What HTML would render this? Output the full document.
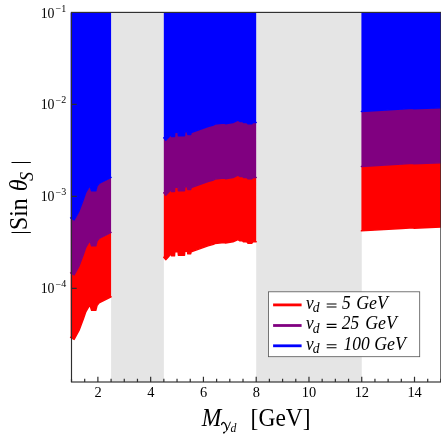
<!DOCTYPE html>
<html><head><meta charset="utf-8"><title>Sin theta_S vs M_gamma_d</title>
<style>
html,body{margin:0;padding:0;background:#ffffff;}
body{width:441px;height:441px;overflow:hidden;font-family:"Liberation Serif",serif;}
svg{display:block;position:absolute;left:0;top:0;will-change:transform;transform:translateZ(0);}
text{font-family:"Liberation Serif",serif;}
</style></head><body>
<svg width="441" height="441" viewBox="0 0 441 441" font-family="'Liberation Serif', serif" fill="#000">
<rect x="111.08" y="12.4" width="52.77" height="369.6" fill="#e5e5e5"/>
<rect x="256.2" y="12.4" width="105.54" height="369.6" fill="#e5e5e5"/>
<polygon points="70.6,337.35 74.1,339.35 79,330.5 83.4,318.65 85.8,311.75 86.9,309.85 89.1,306.15 90.3,306.15 91.6,310.25 95.8,310.25 97,305.45 99.1,302.85 111.1,296.85 111.1,232.45 99.1,238.45 97,241.05 95.8,245.85 91.6,245.85 90.3,241.75 89.1,241.75 86.9,245.45 85.8,247.35 83.4,254.25 79,266.1 74.1,274.95 70.6,272.95" fill="#ff0000"/>
<polyline points="70.6,337.35 74.1,339.35 79,330.5 83.4,318.65 85.8,311.75 86.9,309.85 89.1,306.15 90.3,306.15 91.6,310.25 95.8,310.25 97,305.45 99.1,302.85 111.1,296.85" fill="none" stroke="#ff0000" stroke-width="1.5" stroke-linejoin="round" stroke-linecap="round"/>
<polygon points="163.8,257.25 165.75,259.65 169,256.25 169.6,254.75 171,254.75 171.4,255.85 174.5,255.85 174.8,251.75 178.1,251.75 178.4,255.15 184.5,255.15 184.8,251.15 187.4,251.15 187.8,253.85 190.6,253.85 191.2,251.85 208,245.85 213.6,244.35 214.9,243.45 224.25,242.45 225.5,243.05 233,241.85 238,239.55 239.9,240.85 242.4,240.65 243.6,241.85 246.75,241.85 248,243.15 251.75,243.15 253,241.85 256.2,241.85 256.2,177.45 253,177.45 251.75,178.75 248,178.75 246.75,177.45 243.6,177.45 242.4,176.25 239.9,176.45 238,175.15 233,177.45 225.5,178.65 224.25,178.05 214.9,179.05 213.6,179.95 208,181.45 191.2,187.45 190.6,189.45 187.8,189.45 187.4,186.75 184.8,186.75 184.5,190.75 178.4,190.75 178.1,187.35 174.8,187.35 174.5,191.45 171.4,191.45 171,190.35 169.6,190.35 169,191.85 165.75,195.25 163.8,192.85" fill="#ff0000"/>
<polyline points="163.8,257.25 165.75,259.65 169,256.25 169.6,254.75 171,254.75 171.4,255.85 174.5,255.85 174.8,251.75 178.1,251.75 178.4,255.15 184.5,255.15 184.8,251.15 187.4,251.15 187.8,253.85 190.6,253.85 191.2,251.85 208,245.85 213.6,244.35 214.9,243.45 224.25,242.45 225.5,243.05 233,241.85 238,239.55 239.9,240.85 242.4,240.65 243.6,241.85 246.75,241.85 248,243.15 251.75,243.15 253,241.85 256.2,241.85" fill="none" stroke="#ff0000" stroke-width="1.5" stroke-linejoin="round" stroke-linecap="round"/>
<polygon points="361.4,230.85 402,228.45 413,227.75 413.8,228.15 441,227.05 441,162.65 413.8,163.75 413,163.35 402,164.05 361.4,166.45" fill="#ff0000"/>
<polyline points="361.4,230.85 402,228.45 413,227.75 413.8,228.15 441,227.05" fill="none" stroke="#ff0000" stroke-width="1.5" stroke-linejoin="round" stroke-linecap="round"/>
<polygon points="70.6,272.95 74.1,274.95 79,266.1 83.4,254.25 85.8,247.35 86.9,245.45 89.1,241.75 90.3,241.75 91.6,245.85 95.8,245.85 97,241.05 99.1,238.45 111.1,232.45 111.1,177.45 99.1,183.45 97,186.05 95.8,190.85 91.6,190.85 90.3,186.75 89.1,186.75 86.9,190.45 85.8,192.35 83.4,199.25 79,211.1 74.1,219.95 70.6,217.95" fill="#800080"/>
<polyline points="70.6,272.95 74.1,274.95 79,266.1 83.4,254.25 85.8,247.35 86.9,245.45 89.1,241.75 90.3,241.75 91.6,245.85 95.8,245.85 97,241.05 99.1,238.45 111.1,232.45" fill="none" stroke="#800080" stroke-width="1.5" stroke-linejoin="round" stroke-linecap="round"/>
<polygon points="163.8,192.85 165.75,195.25 169,191.85 169.6,190.35 171,190.35 171.4,191.45 174.5,191.45 174.8,187.35 178.1,187.35 178.4,190.75 184.5,190.75 184.8,186.75 187.4,186.75 187.8,189.45 190.6,189.45 191.2,187.45 208,181.45 213.6,179.95 214.9,179.05 224.25,178.05 225.5,178.65 233,177.45 238,175.15 239.9,176.45 242.4,176.25 243.6,177.45 246.75,177.45 248,178.75 251.75,178.75 253,177.45 256.2,177.45 256.2,122.45 253,122.45 251.75,123.75 248,123.75 246.75,122.45 243.6,122.45 242.4,121.25 239.9,121.45 238,120.15 233,122.45 225.5,123.65 224.25,123.05 214.9,124.05 213.6,124.95 208,126.45 191.2,132.45 190.6,134.45 187.8,134.45 187.4,131.75 184.8,131.75 184.5,135.75 178.4,135.75 178.1,132.35 174.8,132.35 174.5,136.45 171.4,136.45 171,135.35 169.6,135.35 169,136.85 165.75,140.25 163.8,137.85" fill="#800080"/>
<polyline points="163.8,192.85 165.75,195.25 169,191.85 169.6,190.35 171,190.35 171.4,191.45 174.5,191.45 174.8,187.35 178.1,187.35 178.4,190.75 184.5,190.75 184.8,186.75 187.4,186.75 187.8,189.45 190.6,189.45 191.2,187.45 208,181.45 213.6,179.95 214.9,179.05 224.25,178.05 225.5,178.65 233,177.45 238,175.15 239.9,176.45 242.4,176.25 243.6,177.45 246.75,177.45 248,178.75 251.75,178.75 253,177.45 256.2,177.45" fill="none" stroke="#800080" stroke-width="1.5" stroke-linejoin="round" stroke-linecap="round"/>
<polygon points="361.4,166.45 402,164.05 413,163.35 413.8,163.75 441,162.65 441,107.65 413.8,108.75 413,108.35 402,109.05 361.4,111.45" fill="#800080"/>
<polyline points="361.4,166.45 402,164.05 413,163.35 413.8,163.75 441,162.65" fill="none" stroke="#800080" stroke-width="1.5" stroke-linejoin="round" stroke-linecap="round"/>
<polygon points="70.6,217.95 74.1,219.95 79,211.1 83.4,199.25 85.8,192.35 86.9,190.45 89.1,186.75 90.3,186.75 91.6,190.85 95.8,190.85 97,186.05 99.1,183.45 111.1,177.45 111.1,12.4 70.6,12.4" fill="#0000ff"/>
<polyline points="70.6,217.95 74.1,219.95 79,211.1 83.4,199.25 85.8,192.35 86.9,190.45 89.1,186.75 90.3,186.75 91.6,190.85 95.8,190.85 97,186.05 99.1,183.45 111.1,177.45" fill="none" stroke="#0000ff" stroke-width="1.5" stroke-linejoin="round" stroke-linecap="round"/>
<polygon points="163.8,137.85 165.75,140.25 169,136.85 169.6,135.35 171,135.35 171.4,136.45 174.5,136.45 174.8,132.35 178.1,132.35 178.4,135.75 184.5,135.75 184.8,131.75 187.4,131.75 187.8,134.45 190.6,134.45 191.2,132.45 208,126.45 213.6,124.95 214.9,124.05 224.25,123.05 225.5,123.65 233,122.45 238,120.15 239.9,121.45 242.4,121.25 243.6,122.45 246.75,122.45 248,123.75 251.75,123.75 253,122.45 256.2,122.45 256.2,12.4 163.8,12.4" fill="#0000ff"/>
<polyline points="163.8,137.85 165.75,140.25 169,136.85 169.6,135.35 171,135.35 171.4,136.45 174.5,136.45 174.8,132.35 178.1,132.35 178.4,135.75 184.5,135.75 184.8,131.75 187.4,131.75 187.8,134.45 190.6,134.45 191.2,132.45 208,126.45 213.6,124.95 214.9,124.05 224.25,123.05 225.5,123.65 233,122.45 238,120.15 239.9,121.45 242.4,121.25 243.6,122.45 246.75,122.45 248,123.75 251.75,123.75 253,122.45 256.2,122.45" fill="none" stroke="#0000ff" stroke-width="1.5" stroke-linejoin="round" stroke-linecap="round"/>
<polygon points="361.4,111.45 402,109.05 413,108.35 413.8,108.75 441,107.65 441,12.4 361.4,12.4" fill="#0000ff"/>
<polyline points="361.4,111.45 402,109.05 413,108.35 413.8,108.75 441,107.65" fill="none" stroke="#0000ff" stroke-width="1.5" stroke-linejoin="round" stroke-linecap="round"/>
<rect x="71.5" y="12.4" width="369.4" height="369.6" fill="none" stroke="#2e2e2e" stroke-width="1.15"/>
<path d="M71.5 382v-3.3 M84.69 382v-3.3 M97.89 382v-5.3 M111.08 382v-3.3 M124.27 382v-3.3 M137.46 382v-3.3 M150.66 382v-5.3 M163.85 382v-3.3 M177.04 382v-3.3 M190.24 382v-3.3 M203.43 382v-5.3 M216.62 382v-3.3 M229.81 382v-3.3 M243.01 382v-3.3 M256.2 382v-5.3 M269.39 382v-3.3 M282.59 382v-3.3 M295.78 382v-3.3 M308.97 382v-5.3 M322.16 382v-3.3 M335.36 382v-3.3 M348.55 382v-3.3 M361.74 382v-5.3 M374.94 382v-3.3 M388.13 382v-3.3 M401.32 382v-3.3 M414.51 382v-5.3 M427.71 382v-3.3 M440.9 382v-3.3 M71.5 104.4h5.2 M71.5 196.4h5.2 M71.5 288.4h5.2" stroke="#2e2e2e" stroke-width="1.2" fill="none"/>
<text x="97.99" y="396.7" text-anchor="middle" font-size="14.4">2</text>
<text x="150.76" y="396.7" text-anchor="middle" font-size="14.4">4</text>
<text x="203.53" y="396.7" text-anchor="middle" font-size="14.4">6</text>
<text x="256.3" y="396.7" text-anchor="middle" font-size="14.4">8</text>
<text x="309.07" y="396.7" text-anchor="middle" font-size="14.4">10</text>
<text x="361.84" y="396.7" text-anchor="middle" font-size="14.4">12</text>
<text x="414.61" y="396.7" text-anchor="middle" font-size="14.4">14</text>
<text x="40.7" y="17.6" font-size="13.8">10</text>
<text x="55.6" y="12.3" font-size="10">−</text>
<text x="61.3" y="11.6" font-size="10">1</text>
<text x="40.7" y="109.1" font-size="13.8">10</text>
<text x="55.6" y="103.8" font-size="10">−</text>
<text x="61.3" y="103.1" font-size="10">2</text>
<text x="40.7" y="201.1" font-size="13.8">10</text>
<text x="55.6" y="195.8" font-size="10">−</text>
<text x="61.3" y="195.1" font-size="10">3</text>
<text x="40.7" y="293.1" font-size="13.8">10</text>
<text x="55.6" y="287.8" font-size="10">−</text>
<text x="61.3" y="287.1" font-size="10">4</text>
<text transform="translate(201.8,426.4) scale(1,1.08)" font-size="23.5" font-style="italic">M</text>
<g fill="none" stroke="#000" stroke-linecap="round" stroke-linejoin="round"><title>γ</title><path d="M221.6 424.5C221.9 423 223.2 422 224.3 422.7C225.7 423.7 226.5 426.6 227 429.7" stroke-width="1.35"/><path d="M230.4 422.1C229.3 425.1 227.7 428.4 226.6 430.3C225.7 431.9 224.7 433 223.9 432.9" stroke-width="0.95"/><path d="M224.3 432.3L223.8 432.7" stroke-width="1.5"/></g>
<text transform="translate(230.5,432.2) scale(1,1.07)" font-size="11.8" font-style="italic">d</text>
<text transform="translate(250.6,426.2) scale(1,1.06)" font-size="23.5">[GeV]</text>
<g transform="translate(26.7,0) rotate(-90)"><text transform="translate(-229.9,0) scale(1,1.07)" font-size="23.7">Sin</text><text transform="translate(-191.3,0.4) scale(1,1.02)" font-size="24" font-style="italic">θ</text><text x="-181.1" y="6.2" font-size="18.2" font-style="italic">S</text></g>
<path d="M11.5 232.5H30.8M11.5 162.5H30.8" stroke="#000" stroke-width="1.2" fill="none"/>
<rect x="268.5" y="291.8" width="151.2" height="64.9" fill="#ffffff" stroke="#555555" stroke-width="0.8"/>
<path d="M273.1 304.9H301.6" stroke="#ff0000" stroke-width="2.8"/>
<text transform="translate(306.1,308.8) scale(1,1.06)" font-size="17.2" font-style="italic">v</text>
<text transform="translate(312.8,312.1) scale(1,1.06)" font-size="13.6" font-style="italic">d</text>
<path d="M326.7 304h9.8M326.7 307h9.8" stroke="#000" stroke-width="1.1" fill="none"/>
<text transform="translate(342,308.8) scale(1,1.08)" font-size="17.4" font-style="italic">5</text>
<text transform="translate(356.2,308.8) scale(1,1.08)" font-size="17.8" font-style="italic">GeV</text>
<path d="M273.1 325.5H301.6" stroke="#800080" stroke-width="2.8"/>
<text transform="translate(306.1,329.2) scale(1,1.06)" font-size="17.2" font-style="italic">v</text>
<text transform="translate(312.8,332.5) scale(1,1.06)" font-size="13.6" font-style="italic">d</text>
<path d="M326.7 324.4h9.8M326.7 327.4h9.8" stroke="#000" stroke-width="1.1" fill="none"/>
<text transform="translate(341.8,329.2) scale(1,1.08)" font-size="17.4" font-style="italic">25</text>
<text transform="translate(365.2,329.2) scale(1,1.08)" font-size="17.8" font-style="italic">GeV</text>
<path d="M273.1 345.8H301.6" stroke="#0000ff" stroke-width="2.8"/>
<text transform="translate(306.1,349.6) scale(1,1.06)" font-size="17.2" font-style="italic">v</text>
<text transform="translate(312.8,352.9) scale(1,1.06)" font-size="13.6" font-style="italic">d</text>
<path d="M326.7 344.8h9.8M326.7 347.8h9.8" stroke="#000" stroke-width="1.1" fill="none"/>
<text transform="translate(343.6,349.6) scale(1,1.08)" font-size="17.4" font-style="italic">100</text>
<text transform="translate(374.2,349.6) scale(1,1.08)" font-size="17.8" font-style="italic">GeV</text>
</svg>
</body></html>
